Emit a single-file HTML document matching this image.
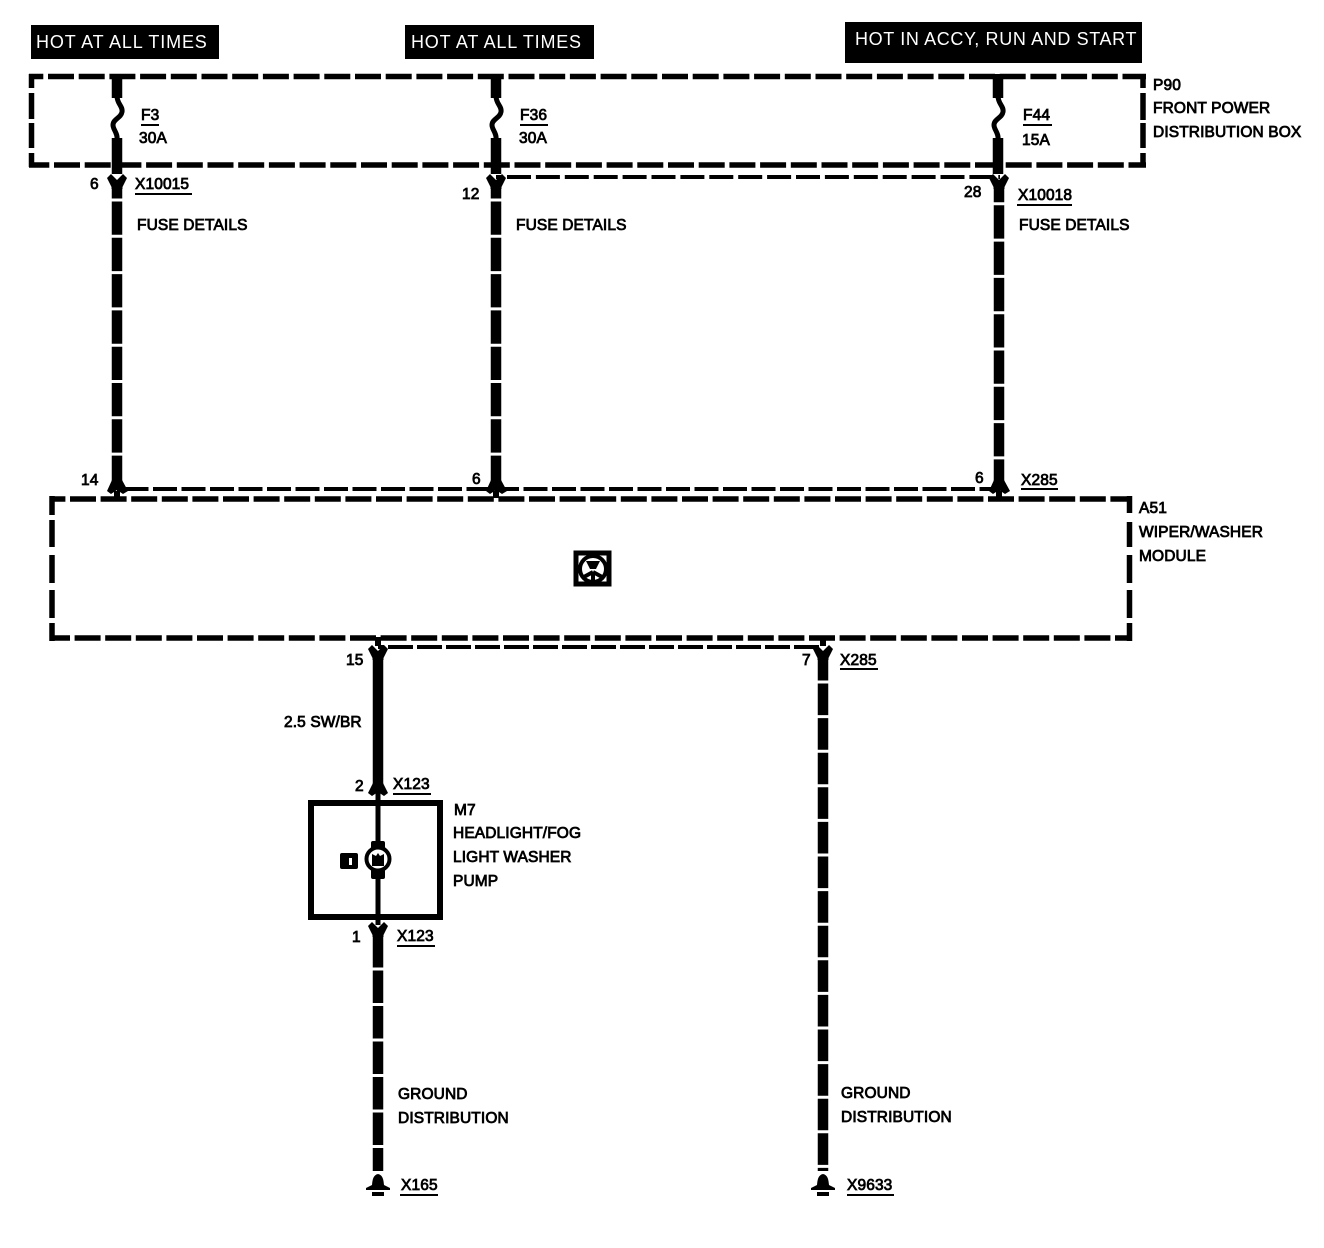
<!DOCTYPE html>
<html><head><meta charset="utf-8"><style>
html,body{margin:0;padding:0;background:#fff}
svg{display:block}
text{font-family:"Liberation Sans",sans-serif;font-size:15.5px;letter-spacing:.12px;fill:#000;stroke:#000;stroke-width:.8px}
.w{fill:#fff;stroke:none;font-size:18px;letter-spacing:.85px}
</style></head><body>
<svg width="1324" height="1248" viewBox="0 0 1324 1248" xmlns="http://www.w3.org/2000/svg">
<rect width="1324" height="1248" fill="#fff"/>
<rect x="31" y="25" width="188" height="34" fill="#000"/>
<rect x="405" y="25" width="189" height="34" fill="#000"/>
<rect x="845" y="22" width="297" height="41" fill="#000"/>
<text class="w" x="36" y="48">HOT AT ALL TIMES</text>
<text class="w" x="411" y="48" style="letter-spacing:.8px">HOT AT ALL TIMES</text>
<text class="w" x="855" y="45" style="letter-spacing:.63px">HOT IN ACCY, RUN AND START</text>

<!-- P90 box -->
<g fill="none" stroke="#000" stroke-width="5.5">
<path d="M29 76.5H1146" stroke-dasharray="26 4.7" stroke-dashoffset="11.7"/>
<path d="M29 165H1146" stroke-dasharray="26 4.7" stroke-dashoffset="5.7"/>
<path d="M31.5 74V88M31.5 93V119M31.5 123V148M31.5 153V167"/>
<path d="M1143 74V88M1143 93V120M1143 123V148M1143 153V167"/>
<!-- A51 box -->
<path d="M50 499H1132" stroke-dasharray="26 4.6" stroke-dashoffset="10.6"/>
<path d="M50 638H1132" stroke-dasharray="26 4.6" stroke-dashoffset="6"/>
<path d="M52 496V515M52 520V547M52 555V583M52 590V618M52 623V641"/>
<path d="M1129.5 496V513M1129.5 522V547M1129.5 555V583M1129.5 590V618M1129.5 623V641"/>
</g>
<g fill="none" stroke="#000" stroke-width="4">
<path d="M496 177H1000" stroke-dasharray="24 4.9" stroke-dashoffset="17.9"/>
<path d="M117 489H1000" stroke-dasharray="24 4.5" stroke-dashoffset="21"/>
<path d="M378 647H823" stroke-dasharray="25 4" stroke-dashoffset="19"/>
</g>

<!-- heavy wires -->
<g fill="none" stroke="#000" stroke-width="10.5">
<path d="M117 74V98M117 138V174"/>
<path d="M496 74V98M496 138V174"/>
<path d="M998 74V98M998 138V174"/>
<path d="M117 180V484" stroke-dasharray="33.3 3" stroke-dashoffset="14.8"/>
<path d="M496 180V484" stroke-dasharray="33.3 3" stroke-dashoffset="14.8"/>
<path d="M999 180V484" stroke-dasharray="33.3 3" stroke-dashoffset="11"/>
<path d="M378 659V790"/>
<path d="M378 932V940"/>
<path d="M378 940V1171" stroke-dasharray="32.5 3" stroke-dashoffset="5"/>
<path d="M823 659V660"/>
<path d="M823 660V1171" stroke-dasharray="31.6 3" stroke-dashoffset="11.1"/>
</g>
<!-- fuses -->
<g fill="none" stroke="#000" stroke-width="5">
<path d="M117 96C117 104 123 106 122 112C121 118 113 119 113 125C113 130 118 133 117 140"/>
<path d="M496 96C496 104 502 106 501 112C500 118 492 119 492 125C492 130 497 133 496 140"/>
<path d="M998 96C998 104 1004 106 1003 112C1002 118 994 119 994 125C994 130 999 133 998 140"/>
</g>
<!-- connectors -->
<g fill="#000">
<path d="M107 178L111 174L117 180L123 174L127 178L122.5 187V189H111.5V187Z"/>
<path d="M486 178L490 174L496 180L502 174L506 178L501.5 187V189H490.5V187Z"/>
<path d="M989 178L993 174L999 180L1005 174L1009 178L1004.500 187V189H993.5V187Z"/>
<path d="M368 649L372 645L378 651L384 645L388 649L383.5 658V660H372.5V658Z"/>
<path d="M813 649L817 645L823 651L829 645L833 649L828.5 658V660H817.5V658Z"/>
<path d="M368 926L372 922L378 928L384 922L388 926L383.5 935V937H372.5V935Z"/>
<path d="M112 480L107 491L111 494L117 490L123 494L128 491L122 480Z"/>
<path d="M491 480L486 491L490 494L496 490L502 494L507 491L501 480Z"/>
<path d="M994 480L989 491L993 494L999 490L1005 494L1010 491L1004 480Z"/>
<path d="M373 783L368 793L372 796L378 792L384 796L388 793L383 783Z"/>
</g>
<path d="M117 491V498M496 491V498M999 491V498M378 637V646M823 637V646" stroke="#000" stroke-width="6" fill="none"/>

<!-- M7 -->
<rect x="311" y="803" width="129" height="114" fill="none" stroke="#000" stroke-width="6"/>
<path d="M378 792V925" stroke="#000" stroke-width="5" fill="none"/>
<rect x="371" y="841" width="14" height="38" rx="2" fill="#000"/>
<circle cx="378" cy="859" r="11.5" fill="#fff" stroke="#000" stroke-width="4"/>
<path d="M372 866V854L376 856L378 853L380 856L384 854V866Z" fill="#000"/>
<rect x="340" y="853" width="18" height="16" rx="2" fill="#000"/>
<rect x="349" y="858" width="3" height="7" fill="#fff"/>

<!-- module icon -->
<g fill="none" stroke="#000">
<rect x="576" y="553" width="33" height="31" stroke-width="5"/>
<circle cx="593" cy="569" r="13" stroke-width="4"/>
<path d="M593 572V584M593 572L582 578M593 572L604 578" stroke-width="4"/>
</g>
<path d="M586 561H600L596 569H590Z" fill="#000"/>

<!-- grounds -->
<g fill="#000">
<path d="M372 1185C372.500 1180 373 1175 378 1174C383 1175 383.500 1180 384 1185L390 1188V1190H366V1188Z"/>
<rect x="372" y="1192" width="12" height="4"/>
<path d="M817 1185C817.500 1180 818 1175 823 1174C828 1175 828.500 1180 829 1185L835 1188V1190H811V1188Z"/>
<rect x="817" y="1192" width="12" height="4"/>
</g>

<text x="141" y="120">F3</text><rect x="141" y="124" width="18" height="2"/>
<text x="139" y="143">30A</text>
<text x="520" y="120">F36</text><rect x="520" y="124" width="28" height="2"/>
<text x="519" y="143">30A</text>
<text x="1023" y="120">F44</text><rect x="1023" y="124" width="29" height="2"/>
<text x="1022" y="145">15A</text>
<text x="1153" y="90">P90</text>
<text x="1153" y="113">FRONT POWER</text>
<text x="1153" y="137">DISTRIBUTION BOX</text>

<text x="90" y="189">6</text>
<text x="135" y="189">X10015</text><rect x="135" y="193" width="57" height="2"/>
<text x="137" y="230">FUSE DETAILS</text>
<text x="462" y="199">12</text>
<text x="516" y="230">FUSE DETAILS</text>
<text x="964" y="197">28</text>
<text x="1018" y="200">X10018</text><rect x="1017" y="204" width="55" height="2"/>
<text x="1019" y="230">FUSE DETAILS</text>

<text x="81" y="485">14</text>
<text x="472" y="484">6</text>
<text x="975" y="483">6</text>
<text x="1021" y="485">X285</text><rect x="1021" y="488" width="37" height="2"/>
<text x="1139" y="513">A51</text>
<text x="1139" y="537">WIPER/WASHER</text>
<text x="1139" y="561">MODULE</text>

<text x="346" y="665">15</text>
<text x="802" y="665">7</text>
<text x="840" y="665">X285</text><rect x="840" y="668" width="38" height="2"/>
<text x="284" y="727">2.5 SW/BR</text>
<text x="355" y="791">2</text>
<text x="393" y="789">X123</text><rect x="393" y="793" width="38" height="2"/>
<text x="454" y="815">M7</text>
<text x="453" y="838">HEADLIGHT/FOG</text>
<text x="453" y="862">LIGHT WASHER</text>
<text x="453" y="886">PUMP</text>
<text x="352" y="942">1</text>
<text x="397" y="941">X123</text><rect x="397" y="945" width="38" height="2"/>
<text x="398" y="1099">GROUND</text>
<text x="398" y="1123">DISTRIBUTION</text>
<text x="841" y="1098">GROUND</text>
<text x="841" y="1122">DISTRIBUTION</text>
<text x="401" y="1190">X165</text><rect x="400" y="1194" width="38" height="2"/>
<text x="847" y="1190">X9633</text><rect x="847" y="1194" width="47" height="2"/>
</svg>
</body></html>
